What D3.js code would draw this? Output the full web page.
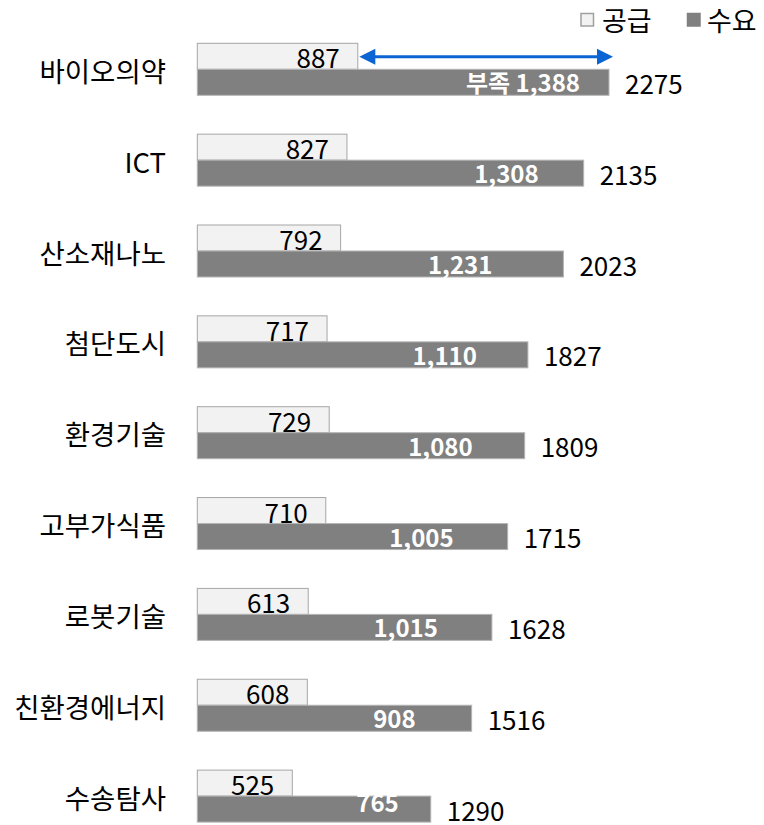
<!DOCTYPE html>
<html>
<head>
<meta charset="utf-8">
<script src="https://cdn.jsdelivr.net/npm/d3@7"></script>
<style>
  body { margin: 0; background: #fff; }
  text { font-family: "Noto Sans CJK KR", "Noto Sans", sans-serif; }
</style>
</head>
<body>
<div id="chart"></div>
<script>
// data
const categories = ["바이오의약", "ICT", "산소재나노", "첨단도시", "환경기술", "고부가식품", "로봇기술", "친환경에너지", "수송탐사"];
const supply = [887, 827, 792, 717, 729, 710, 613, 608, 525];
const demand = [2275, 2135, 2023, 1827, 1809, 1715, 1628, 1516, 1290];
const shortage = [1388, 1308, 1231, 1110, 1080, 1005, 1015, 908, 765];
const legendLabels = ["공급", "수요"];

// label nudges (the original labels were placed by hand)
const shortGap = [29, 45, 71, 51, 52, 54, 54, 56, 32];
const shortLift = [3.5, 3, 3, 3, 3, 3, 3, 3, 10];

const width = 764, height = 825;
const supplyFill = "#f2f2f2", demandFill = "#808080";

const svg = d3.select("#chart")
  .append("svg")
  .attr("width", width)
  .attr("height", height);

const x = d3.scaleLinear()
  .domain([0, 2500])
  .range([197.3, 649.7]);

const step = 90.85, band = 52;
const y = d3.scaleBand()
  .domain(categories)
  .range([43.3 - (step - band) / 2, 43.3 - (step - band) / 2 + categories.length * step])
  .paddingInner((step - band) / step)
  .paddingOuter((step - band) / step / 2);

const sub = d3.scaleBand()
  .domain(["supply", "demand"])
  .range([0, y.bandwidth()]);

const rows = categories.map((c, i) => ({
  cat: c, supply: supply[i], demand: demand[i], shortage: shortage[i], i: i
}));

// category labels
svg.selectAll(".cat")
  .data(rows)
  .enter()
  .append("text")
  .attr("x", 166)
  .attr("y", d => y(d.cat) + sub.bandwidth() + 0.5)
  .attr("text-anchor", "end")
  .attr("dominant-baseline", "central")
  .style("font-size", "27.5px")
  .attr("fill", "#000")
  .text(d => d.cat);

// supply bars
svg.selectAll(".sup")
  .data(rows)
  .enter()
  .append("rect")
  .attr("x", x(0))
  .attr("y", d => y(d.cat) + sub("supply"))
  .attr("width", d => x(d.supply) - x(0))
  .attr("height", sub.bandwidth())
  .attr("fill", supplyFill)
  .attr("stroke", "#a6a6a6")
  .attr("stroke-width", 1);

// supply values (drawn before demand bars so they get cut like the original)
svg.selectAll(".supLbl")
  .data(rows)
  .enter()
  .append("text")
  .attr("x", d => x(d.supply) - 18)
  .attr("y", d => y(d.cat) + sub("supply") + sub.bandwidth() - 1)
  .attr("text-anchor", "end")
  .style("font-size", "26px")
  .attr("fill", "#000")
  .text(d => d.supply);

// demand bars
svg.selectAll(".dem")
  .data(rows)
  .enter()
  .append("rect")
  .attr("x", x(0))
  .attr("y", d => y(d.cat) + sub("demand"))
  .attr("width", d => x(d.demand) - x(0))
  .attr("height", sub.bandwidth())
  .attr("fill", demandFill)
  .attr("stroke", "#b4b4b4")
  .attr("stroke-width", 1);

// shortage labels inside demand bars
svg.selectAll(".shortLbl")
  .data(rows)
  .enter()
  .append("text")
  .attr("x", d => x(d.demand) - shortGap[d.i])
  .attr("y", d => y(d.cat) + sub("demand") + sub.bandwidth() - shortLift[d.i])
  .attr("text-anchor", "end")
  .style("font-size", "24px")
  .attr("font-weight", "bold")
  .attr("fill", "#fff")
  .text(d => (d.i === 0 ? "부족 " : "") + d3.format(",")(d.shortage));

// demand totals
svg.selectAll(".demLbl")
  .data(rows)
  .enter()
  .append("text")
  .attr("x", d => x(d.demand) + 16)
  .attr("y", d => y(d.cat) + sub("demand") + sub.bandwidth() - 1.5)
  .style("font-size", "26px")
  .attr("fill", "#000")
  .text(d => d.demand);

// blue double arrow on the first row
const ay = y(categories[0]) + sub("supply") + sub.bandwidth() / 2 + 0.5;
const ax0 = x(supply[0]) + 1.5, ax1 = x(demand[0]) + 4;
const headL = 16, headH = 8, blue = "#0b64d4";
svg.append("line")
  .attr("x1", ax0 + headL - 2).attr("x2", ax1 - headL + 2)
  .attr("y1", ay).attr("y2", ay)
  .attr("stroke", blue)
  .attr("stroke-width", 3);
svg.append("path")
  .attr("d", `M${ax0},${ay} L${ax0 + headL},${ay - headH} L${ax0 + headL},${ay + headH} Z`)
  .attr("fill", blue);
svg.append("path")
  .attr("d", `M${ax1},${ay} L${ax1 - headL},${ay - headH} L${ax1 - headL},${ay + headH} Z`)
  .attr("fill", blue);

// legend
const legend = svg.append("g");
const legendItems = [
  { label: legendLabels[0], fill: supplyFill, stroke: "#a0a0a0", bx: 581, tx: 602 },
  { label: legendLabels[1], fill: demandFill, stroke: demandFill, bx: 687.5, tx: 707 }
];
legendItems.forEach(l => {
  legend.append("rect")
    .attr("x", l.bx).attr("y", 13.5)
    .attr("width", 12.5).attr("height", 12.5)
    .attr("fill", l.fill)
    .attr("stroke", l.stroke)
    .attr("stroke-width", 1.5);
  legend.append("text")
    .attr("x", l.tx).attr("y", 19.5)
    .attr("dominant-baseline", "central")
    .style("font-size", "27px")
    .attr("fill", "#000")
    .text(l.label);
});
</script>
</body>
</html>
